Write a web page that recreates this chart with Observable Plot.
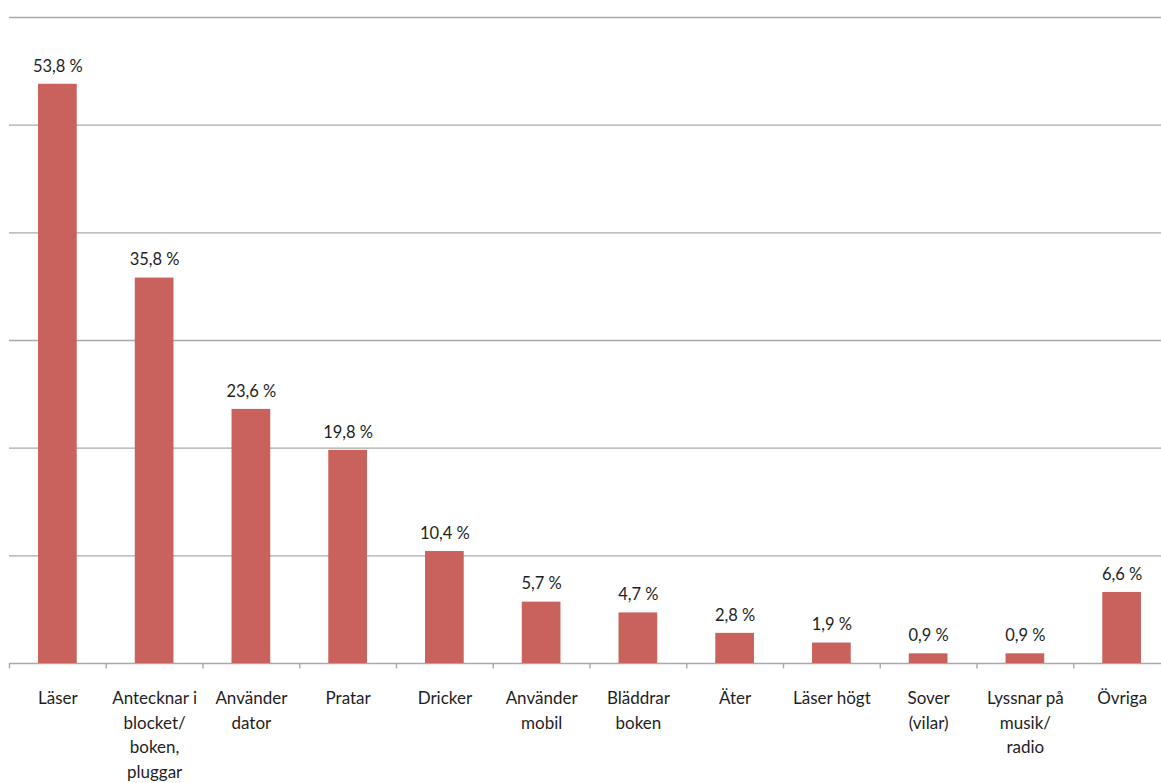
<!DOCTYPE html>
<html>
<head>
<meta charset="utf-8">
<script src="https://cdn.jsdelivr.net/npm/d3@7"></script>
<script src="https://cdn.jsdelivr.net/npm/@observablehq/plot@0.6"></script>
<style>
  html, body { margin: 0; padding: 0; background: #fff; }
  #chart svg { display: block; }
</style>
</head>
<body>
<div id="chart"></div>
<script>
const categories = ["Läser", "Antecknar i blocket/ boken, pluggar", "Använder dator", "Pratar", "Dricker", "Använder mobil", "Bläddrar boken", "Äter", "Läser högt", "Sover (vilar)", "Lyssnar på musik/ radio", "Övriga"];
const tickLabels = ["Läser", "Antecknar i\nblocket/\nboken,\npluggar", "Använder\ndator", "Pratar", "Dricker", "Använder\nmobil", "Bläddrar\nboken", "Äter", "Läser högt", "Sover\n(vilar)", "Lyssnar på\nmusik/\nradio", "Övriga"];
const values = [53.8, 35.8, 23.6, 19.8, 10.4, 5.7, 4.7, 2.8, 1.9, 0.9, 0.9, 6.6];
const gridValues = [0, 10, 20, 30, 40, 50, 60];

const data = categories.map((c, i) => ({cat: c, label: tickLabels[i], value: values[i]}));
const labelOf = new Map(data.map(d => [d.cat, d.label]));
const fmt = v => v.toFixed(1).replace(".", ",") + " %";

const step = (1170 - 9) / categories.length;

const chart = Plot.plot({
  width: 1161,
  height: 783,
  marginTop: 17,
  marginBottom: 120,
  marginLeft: 9,
  marginRight: 0,
  style: {fontFamily: "Lato, 'Open Sans', sans-serif", background: "#fff", color: "#1e1e1e"},
  x: {domain: categories, range: [9, 1170], paddingInner: 0.6, paddingOuter: 0.3, round: false, label: null},
  y: {domain: [0, 60], label: null, axis: null},
  marks: [
    Plot.ruleY(gridValues, {stroke: "#a9a9a9", strokeWidth: 1.4}),
    Plot.barY(data, {x: "cat", y: "value", fill: "#c9625c"}),
    Plot.ruleX(categories, {x: d => d, y1: 0, y2: -0.5, dx: -step / 2, stroke: "#a9a9a9", strokeWidth: 1.4}),
    Plot.text(data, {x: "cat", y: "value", text: d => fmt(d.value), dy: -18, fontSize: 16.5, fill: "#1e1e1e"}),
    Plot.axisX({tickSize: 0, tickPadding: 23, fontSize: 17, lineHeight: 1.45, tickFormat: d => labelOf.get(d), textOverflow: null, label: null, fill: "#1e1e1e"})
  ]
});
document.getElementById("chart").append(chart);
</script>
</body>
</html>
